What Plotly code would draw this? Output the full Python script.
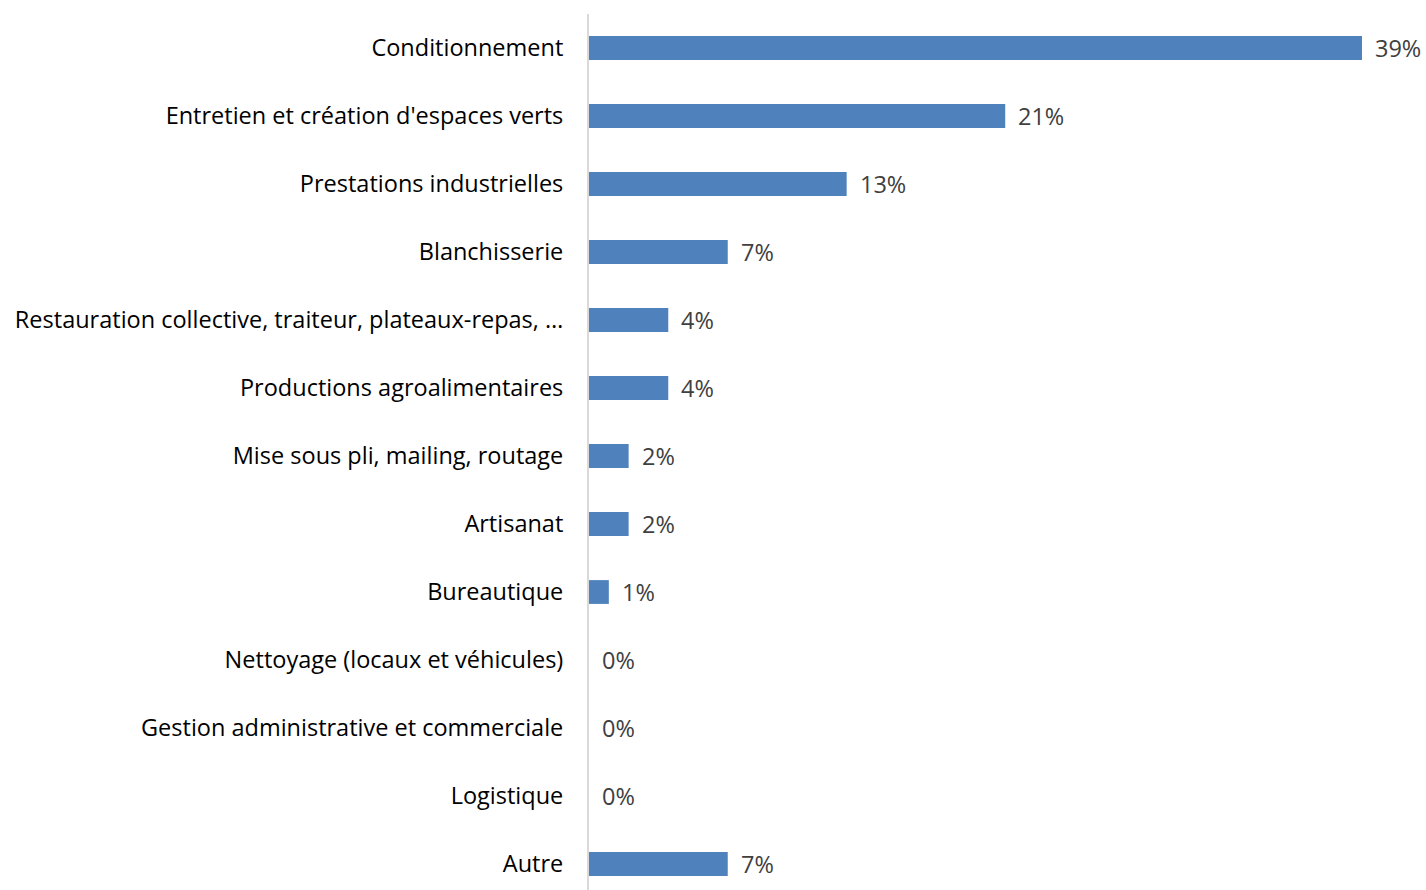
import plotly.graph_objects as go

categories = [
    "Conditionnement",
    "Entretien et création d'espaces verts",
    "Prestations industrielles",
    "Blanchisserie",
    "Restauration collective, traiteur, plateaux-repas, …",
    "Productions agroalimentaires",
    "Mise sous pli, mailing, routage",
    "Artisanat",
    "Bureautique",
    "Nettoyage (locaux et véhicules)",
    "Gestion administrative et commerciale",
    "Logistique",
    "Autre",
]
values = [39, 21, 13, 7, 4, 4, 2, 2, 1, 0, 0, 0, 7]
labels = [f"{v}%" for v in values]

FONT = "Open Sans"
FS = 23.5

fig = go.Figure()
fig.add_trace(go.Bar(
    x=values,
    y=categories,
    orientation="h",
    marker=dict(color="#4F81BD", line=dict(width=0)),
    width=0.35,
    hoverinfo="skip",
))

for c, v, t in zip(categories, values, labels):
    fig.add_annotation(
        x=v, y=c, text=t, showarrow=False,
        xanchor="left", yanchor="middle", xshift=11, yshift=0,
        font=dict(family=FONT, size=FS, color="#404040"),
    )

fig.update_layout(
    width=1426, height=890,
    margin=dict(l=589, r=0, t=14, b=0),
    plot_bgcolor="white", paper_bgcolor="white",
    showlegend=False,
    font=dict(family=FONT, size=FS, color="#000000"),
    xaxis=dict(range=[0, 42.23], visible=False, fixedrange=True),
    yaxis=dict(
        range=[12.382, -0.5],
        type="category",
        showline=True, linecolor="#D9D9D9", linewidth=2,
        showgrid=False, zeroline=False,
        ticks="", ticklabelstandoff=19,
        tickfont=dict(family=FONT, size=FS, color="#000000"),
    ),
)

fig.write_html("out.html")
